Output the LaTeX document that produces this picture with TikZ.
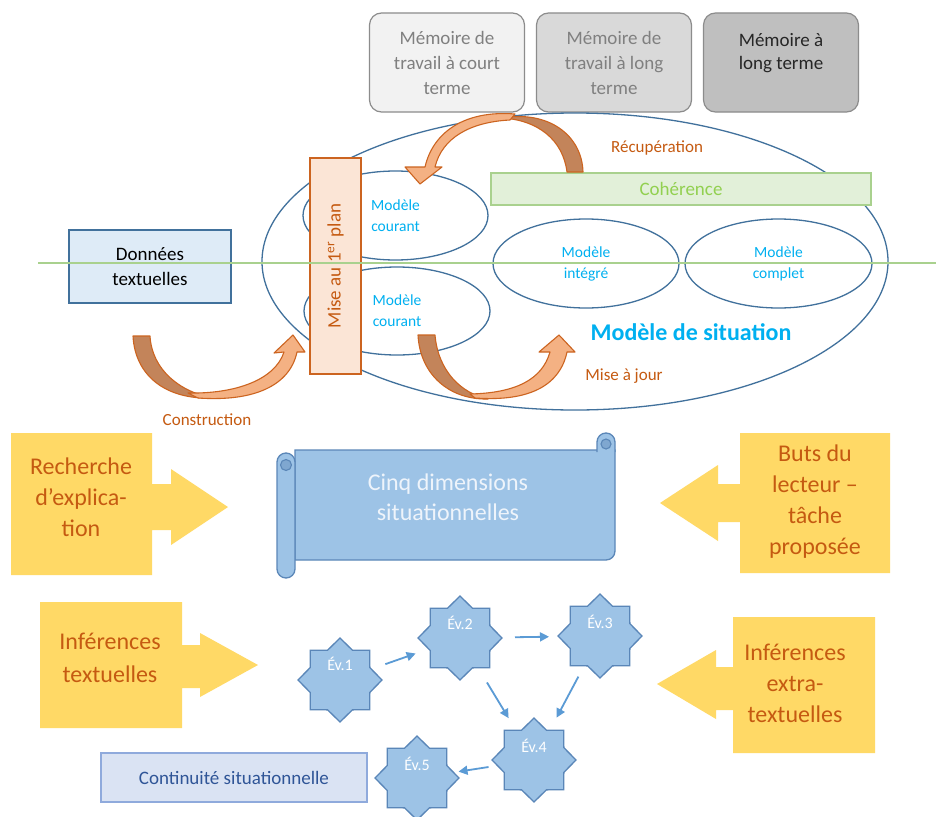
\documentclass[tikz,border=0pt]{standalone}
\usepackage{fontspec}
\setmainfont{Carlito}
\usetikzlibrary{shapes.geometric,arrows.meta,calc}
\definecolor{memB}{HTML}{8C8C8C}
\definecolor{memT}{HTML}{808080}
\definecolor{memTd}{HTML}{262626}
\definecolor{memF1}{HTML}{F2F2F2}
\definecolor{memF2}{HTML}{D9D9D9}
\definecolor{memF3}{HTML}{BFBFBF}
\definecolor{ellB}{HTML}{41719C}
\definecolor{cyanT}{HTML}{00B0F0}
\definecolor{orangeT}{HTML}{C55A11}
\definecolor{orangeB}{HTML}{CC6420}
\definecolor{lightO}{HTML}{F4B183}
\definecolor{darkO}{HTML}{C3845A}
\definecolor{planF}{HTML}{FBE5D6}
\definecolor{greenL}{HTML}{A9D18E}
\definecolor{greenF}{HTML}{E2F0D9}
\definecolor{greenT}{HTML}{92D050}
\definecolor{blueF}{HTML}{DEEBF7}
\definecolor{blueB}{HTML}{41719C}
\definecolor{yellowF}{HTML}{FFD966}
\definecolor{scrollF}{HTML}{9DC3E6}
\definecolor{scrollB}{HTML}{5B87B8}
\definecolor{scrollC}{HTML}{7FA7D0}
\definecolor{cinqT}{HTML}{EEF4FB}
\definecolor{starF}{HTML}{9DC3E6}
\definecolor{starB}{HTML}{5A86B8}
\definecolor{evA}{HTML}{5B9BD5}
\definecolor{contF}{HTML}{DAE3F3}
\definecolor{contB}{HTML}{8FAADC}
\definecolor{contT}{HTML}{2F5597}
\begin{document}
\begin{tikzpicture}[x=1pt,y=-1pt,
  mem/.style={draw=memB, line width=1.2pt, rounded corners=12pt, minimum width=155pt, minimum height=99pt, inner sep=0pt, align=center, font=\fontsize{19}{25}\selectfont},
  ell/.style={ellipse, draw=ellB, line width=1.3pt, inner sep=0pt, align=center, text=cyanT, font=\fontsize{15.5}{21}\selectfont},
  otext/.style={text=orangeT, font=\fontsize{17}{20}\selectfont},
  callout/.style={fill=yellowF},
  calltext/.style={text=orangeT, align=center, font=\fontsize{24}{31}\selectfont},
  evstar/.style={star, star points=8, star point ratio=1.3, minimum size=84pt, inner sep=0pt, draw=starB, fill=starF, line width=1.3pt},
  evlabel/.style={text=white, font=\fontsize{16}{18}\selectfont},
  evarrow/.style={draw=evA, line width=1.8pt, -{Triangle[width=9pt,length=9pt]}},
  backarrow/.style={fill=darkO, draw=orangeB, line width=1.1pt, line join=round},
  frontarrow/.style={fill=lightO, draw=orangeB, line width=1.1pt, line join=round},
  scrollpart/.style={fill=scrollF, draw=scrollB, line width=1.3pt},
  curl/.style={fill=scrollC, draw=scrollB, line width=1.1pt}
]
\useasboundingbox (0,0) rectangle (936,816);
\fill[white] (0,0) rectangle (936,816);

% memory boxes
\node[mem, fill=memF1, text=memT] (m1) at (447,62.5) {Mémoire de\\travail à court\\terme};
\node[mem, fill=memF2, text=memT] (m2) at (614,62.5) {Mémoire de\\travail à long\\terme};
\node[mem, fill=memF3] (m3) at (781,62.5) {};
\node[text=memTd, align=center, font=\fontsize{19}{23}\selectfont] (m3t) at (781,53) {Mémoire à\\long terme};

% situation model ellipses
\node[ell, minimum width=626pt, minimum height=297pt] (sit) at (575,261.5) {};
\node[ell, minimum width=185pt, minimum height=89pt] (mc1) at (395.5,215.5) {Modèle\\courant};
\node[ell, minimum width=186pt, minimum height=88pt] (mc2) at (397,311) {Modèle\\courant};
\node[ell, minimum width=186pt, minimum height=89pt] (mi) at (586,263.5) {Modèle\\intégré};
\node[ell, minimum width=187pt, minimum height=89pt] (mcp) at (778.5,263.5) {Modèle\\complet};
\node[text=cyanT, font=\fontsize{24}{26}\selectfont\bfseries] (sitt) at (691,332) {Modèle de situation};

% coherence
\node[draw=greenL, fill=greenF, line width=1.2pt, minimum width=380pt, minimum height=32pt, inner sep=0pt, text=greenT, font=\fontsize{19}{21}\selectfont] (coh) at (681,189) {Cohérence};

% Recuperation arrow
\draw[backarrow] (567,172) .. controls (563,140) and (538,120) .. (502,118)
  .. controls (548,110) and (582,135) .. (583,172) -- cycle;
\draw[frontarrow] (515,114) .. controls (465,110) and (433,132) .. (425,167)
  -- (405,167) -- (420,184) -- (442,167) -- (435,167)
  .. controls (442,138) and (470,122) .. (510,120) -- cycle;
\node[otext] (recup) at (657,148) {Récupération};

% mise au premier plan
\node[draw=orangeB, fill=planF, line width=1.2pt, minimum width=51pt, minimum height=216pt, inner sep=0pt] (plan) at (335.5,266) {};
\node[rotate=90, text=orangeT, font=\fontsize{19}{21}\selectfont] (plant) at (335.5,266) {Mise au 1\textsuperscript{er} plan};

% donnees textuelles
\node[draw=blueB, fill=blueF, line width=1.2pt, minimum width=162pt, minimum height=73pt, inner sep=0pt, align=center, font=\fontsize{19}{25}\selectfont] (don) at (150,266.5) {Données\\textuelles};

% Construction arrow
\draw[backarrow] (133,336) -- (150,336) .. controls (152,370) and (180,392) .. (213,398)
  .. controls (165,400) and (135,375) .. (133,336) -- cycle;
\draw[frontarrow] (198,398) .. controls (255,402) and (290,385) .. (297,352)
  -- (305,352) -- (293,335) -- (274,353) -- (284,352)
  .. controls (275,380) and (235,394) .. (188,393) -- cycle;
\node[otext] (constr) at (207,420) {Construction};

% Mise a jour arrow
\draw[backarrow] (418,335) -- (435,335) .. controls (438,370) and (460,393) .. (488,399)
  .. controls (450,400) and (420,375) .. (418,335) -- cycle;
\draw[frontarrow] (475,398) .. controls (530,402) and (560,385) .. (567,352)
  -- (575,352) -- (559,335) -- (539,352) -- (550,352)
  .. controls (542,380) and (515,393) .. (470,394) -- cycle;
\node[otext] (maj) at (624,376) {Mise à jour};

% green line
\coordinate (gl1) at (38,263);
\coordinate (gl2) at (936,263);
\draw[greenL, line width=1.1pt] (gl1) -- (gl2);

% callouts
\fill[callout] (11,433) -- (152,433) -- (152,484) -- (171,484) -- (171,469) -- (228,507)
  -- (171,545) -- (171,530) -- (152,530) -- (152,575) -- (11,575) -- cycle;
\node[calltext] (rech) at (81,497) {Recherche\\d’explica-\\tion};

\fill[callout] (740,433) -- (890,433) -- (890,573) -- (740,573) -- (740,522) -- (718,522)
  -- (718,541) -- (660,503) -- (718,465) -- (718,484) -- (740,484) -- cycle;
\node[calltext] (buts) at (815,502) {Buts du\\lecteur –\\tâche\\proposée};

\fill[callout] (40,602) -- (182,602) -- (182,645) -- (200,645) -- (200,633) -- (258,665)
  -- (200,697) -- (200,688) -- (182,688) -- (182,728) -- (40,728) -- cycle;
\node[calltext, font=\fontsize{24}{33}\selectfont] (inft) at (110,657.5) {Inférences\\textuelles};

\fill[callout] (733,617) -- (875,617) -- (875,753) -- (733,753) -- (733,710) -- (716,710)
  -- (716,719) -- (657,684) -- (716,650) -- (716,667) -- (733,667) -- cycle;
\node[calltext] (infe) at (795,683) {Inférences\\extra-\\textuelles};

% scroll
\draw[scrollpart] (295,450) -- (615,450) -- (615,551) .. controls (615,556) and (611,560) .. (606,560) -- (295,560) -- cycle;
\draw[scrollpart] (597,452) -- (597,442) .. controls (597,437) and (601,433) .. (606,433)
  .. controls (611,433) and (615,437) .. (615,442) -- (615,452);
\draw[curl] (606,444) circle[radius=5];
\draw[scrollpart, rounded corners=9pt] (277,453) rectangle (295,578);
\draw[curl] (286,465) circle[radius=5.5];
\node[text=cinqT, align=center, font=\fontsize{24}{30}\selectfont] (cinq) at (448,497) {Cinq dimensions\\situationnelles};

% events
\node[evstar] (e1) at (340,680) {};
\node[evstar] (e2) at (460,638) {};
\node[evstar] (e3) at (600,636) {};
\node[evstar] (e4) at (534,760) {};
\node[evstar] (e5) at (417,778) {};
\node[evlabel] at ($(e1)+(0,-16)$) {Év.1};
\node[evlabel] at ($(e2)+(0,-15)$) {Év.2};
\node[evlabel] at ($(e3)+(0,-14)$) {Év.3};
\node[evlabel] at ($(e4)+(0,-14)$) {Év.4};
\node[evlabel] at ($(e5)+(0,-14)$) {Év.5};
\draw[evarrow] ($(e1)!48pt!(e2)$) -- ($(e2)!47pt!(e1)$);
\draw[evarrow] ($(e2)!55pt!(e3)$) -- ($(e3)!51pt!(e2)$);
\draw[evarrow] ($(e2)!52pt!(e4)$) -- ($(e4)!49pt!(e2)$);
\draw[evarrow] ($(e3)!46pt!(e4)$) -- ($(e4)!48pt!(e3)$);
\draw[evarrow] ($(e4)!46pt!(e5)$) -- ($(e5)!42pt!(e4)$);

% continuite
\node[draw=contB, fill=contF, line width=1.2pt, minimum width=266pt, minimum height=49pt, inner sep=0pt, text=contT, font=\fontsize{19}{21}\selectfont] (cont) at (234,777.5) {Continuité situationnelle};
\end{tikzpicture}
\end{document}
